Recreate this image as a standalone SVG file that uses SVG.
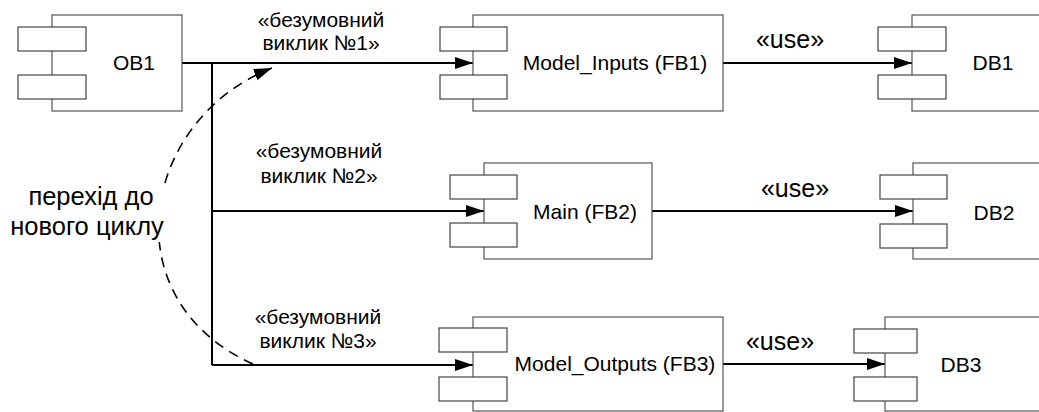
<svg xmlns="http://www.w3.org/2000/svg" width="1039" height="412" viewBox="0 0 1039 412">
  <style>
    .body { fill: #fff; stroke: #555; stroke-width: 1.2; }
    .tab { fill: #fff; stroke: #444; stroke-width: 1.2; }
    .name { font-family: "Liberation Sans", Arial, sans-serif; font-size: 21px; fill: #000; text-anchor: middle; }
    .call { font-family: "Liberation Sans", Arial, sans-serif; font-size: 21px; fill: #000; text-anchor: middle; }
    .use { font-family: "Liberation Sans", Arial, sans-serif; font-size: 25px; fill: #000; text-anchor: middle; }
    .note { font-family: "Liberation Sans", Arial, sans-serif; font-size: 25.5px; fill: #000; text-anchor: middle; }
    .wire { fill: none; stroke: #000; stroke-width: 2; }
    .loop { fill: none; stroke: #000; stroke-width: 1.6; stroke-dasharray: 10 7; }
  </style>
  <defs>
    <marker id="head" markerUnits="userSpaceOnUse" markerWidth="18" markerHeight="12" refX="18" refY="6" orient="auto">
      <path d="M0,0 L18,6 L0,12 z" fill="#000"/>
    </marker>
  </defs>

  <rect width="1039" height="412" fill="#fff"/>

  <!-- connectors -->
  <g id="connectors">
    <path class="wire" d="M182,63 H212 V365"/>
    <path class="wire" d="M212,63 H473" marker-end="url(#head)"/>
    <path class="wire" d="M212,211 H484" marker-end="url(#head)"/>
    <path class="wire" d="M212,365 H473" marker-end="url(#head)"/>
    <path class="wire" d="M723,63 H912" marker-end="url(#head)"/>
    <path class="wire" d="M652,211 H913" marker-end="url(#head)"/>
    <path class="wire" d="M723,364 H885" marker-end="url(#head)"/>
    <path class="loop" d="M253,364 C110,300 140,120 272,68" marker-end="url(#head)"/>

    <text class="call" x="321" y="27">«безумовний</text>
    <text class="call" x="321" y="50">виклик №1»</text>
    <text class="call" x="319" y="158">«безумовний</text>
    <text class="call" x="319" y="183">виклик №2»</text>
    <text class="call" x="318" y="324">«безумовний</text>
    <text class="call" x="318" y="348">виклик №3»</text>

    <text class="use" x="790" y="48">«use»</text>
    <text class="use" x="795" y="197">«use»</text>
    <text class="use" x="780" y="350">«use»</text>

    <rect x="0" y="184" width="176" height="58" fill="#fff"/>
    <text class="note" x="91" y="205">перехід до</text>
    <text class="note" x="87" y="235">нового циклу</text>
  </g>

  <!-- components -->
  <g id="OB1">
    <rect class="body" x="52" y="15" width="130" height="96"/>
    <rect class="tab" x="18" y="27" width="68" height="24"/>
    <rect class="tab" x="18" y="75" width="68" height="24"/>
    <text class="name" x="134" y="70">OB1</text>
  </g>

  <g id="FB1">
    <rect class="body" x="473" y="15" width="250" height="96"/>
    <rect class="tab" x="440" y="27" width="67" height="24"/>
    <rect class="tab" x="440" y="75" width="67" height="24"/>
    <text class="name" x="615" y="70">Model_Inputs (FB1)</text>
  </g>

  <g id="DB1">
    <rect class="body" x="912" y="15" width="140" height="96"/>
    <rect class="tab" x="878" y="27" width="68" height="24"/>
    <rect class="tab" x="878" y="75" width="68" height="24"/>
    <text class="name" x="993" y="70">DB1</text>
  </g>

  <g id="FB2">
    <rect class="body" x="484" y="163" width="168" height="96"/>
    <rect class="tab" x="450" y="175" width="67" height="24"/>
    <rect class="tab" x="450" y="223" width="67" height="24"/>
    <text class="name" x="585" y="219">Main (FB2)</text>
  </g>

  <g id="DB2">
    <rect class="body" x="913" y="163" width="140" height="96"/>
    <rect class="tab" x="880" y="175" width="67" height="24"/>
    <rect class="tab" x="880" y="224" width="67" height="24"/>
    <text class="name" x="994" y="220">DB2</text>
  </g>

  <g id="FB3">
    <rect class="body" x="473" y="317" width="250" height="94"/>
    <rect class="tab" x="439" y="328" width="68" height="24"/>
    <rect class="tab" x="439" y="377" width="68" height="24"/>
    <text class="name" x="615" y="371">Model_Outputs (FB3)</text>
  </g>

  <g id="DB3">
    <rect class="body" x="885" y="317" width="200" height="94"/>
    <rect class="tab" x="854" y="329" width="63" height="24"/>
    <rect class="tab" x="854" y="377" width="63" height="24"/>
    <text class="name" x="961" y="372">DB3</text>
  </g>
</svg>
